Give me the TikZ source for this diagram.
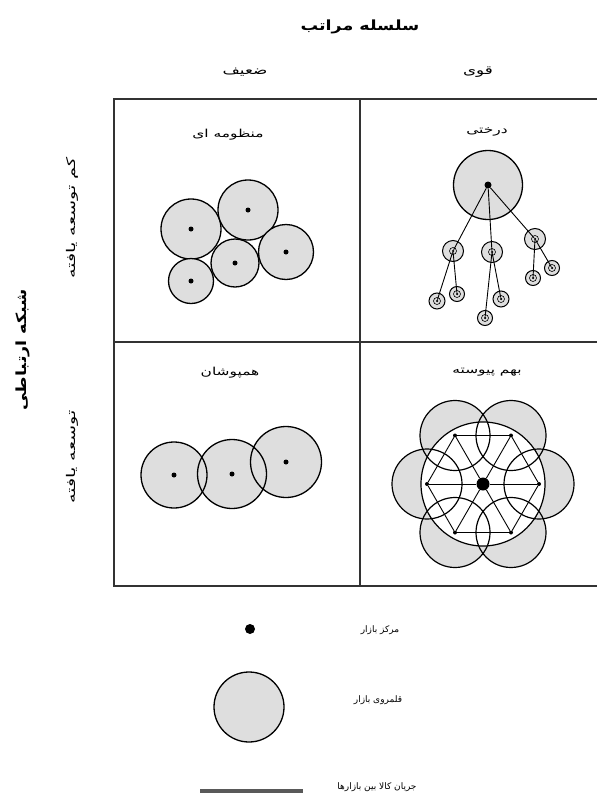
\documentclass[tikz,border=0pt]{standalone}
\usepackage{fontspec}
\newfontfamily\fa[Script=Arabic]{DejaVu Sans}
\newfontfamily\faw[Script=Arabic,FakeStretch=1.4]{DejaVu Sans}
\newfontfamily\faww[Script=Arabic,FakeStretch=1.6]{DejaVu Sans}
\newfontfamily\fab[Script=Arabic,FakeStretch=1.25]{DejaVu Sans}
\TeXXeTstate=1
\usetikzlibrary{calc,backgrounds}
\definecolor{fillc}{gray}{0.87}
\begin{document}
\begin{tikzpicture}[x=1pt,y=-1pt,
  mkt/.style={circle,draw=black,line width=1.3pt,fill=fillc,inner sep=0pt,minimum size=#1},
  ring/.style={circle,draw=black,line width=1.1pt,inner sep=0pt,minimum size=#1},
  mdot/.style={circle,fill=black,inner sep=0pt,minimum size=#1},
  link/.style={line width=0.9pt},
  grid/.style={line width=1.6pt,draw=black!80},
  lbl/.style={font=\faw\fontsize{11}{12}\selectfont},
  leg/.style={font=\fa\fontsize{9}{10}\selectfont},
  head/.style={font=\faw\fontsize{12}{13}\selectfont},
  side/.style={font=\faww\fontsize{12}{13}\selectfont},
  big/.style={font=\fab\bfseries\fontsize{14}{16}\selectfont}]
\useasboundingbox (0,0) rectangle (597,798);
% frame
\coordinate (g1) at (597,99);
\coordinate (g2) at (114,99);
\coordinate (g3) at (114,586);
\coordinate (g4) at (597,586);
\coordinate (g5) at (360,99);
\coordinate (g6) at (360,586);
\coordinate (g7) at (114,342);
\coordinate (g8) at (597,342);
\draw[grid] (g1) -- (g2) -- (g3) -- (g4);
\draw[grid] (g5) -- (g6);
\draw[grid] (g7) -- (g8);
% headings
\node[big] (title) at (360,27) {\beginR سلسله مراتب\endR};
\node[head] (weak) at (245,72) {\beginR ضعیف\endR};
\node[head] (strong) at (478,72) {\beginR قوی\endR};
\node[big,rotate=90] (net) at (23,350) {\beginR شبکه ارتباطی\endR};
\node[side,rotate=90] (less) at (72,218) {\beginR کم توسعه یافته\endR};
\node[side,rotate=90] (dev) at (72,457) {\beginR توسعه یافته\endR};
% cell labels
\node[lbl] (ltl) at (228,135) {\beginR منظومه ای\endR};
\node[lbl] (ltr) at (487,132) {\beginR درختی\endR};
\node[lbl] (lbl1) at (230,373) {\beginR همپوشان\endR};
\node[lbl] (lbr) at (487,372) {\beginR بهم پیوسته\endR};
% top-left: solar
\node[mkt=60pt] (s1) at (191,229) {};
\node[mkt=60pt] (s2) at (248,210) {};
\node[mkt=55pt] (s3) at (286,252) {};
\node[mkt=48pt] (s4) at (235,263) {};
\node[mkt=45pt] (s5) at (191,281) {};
\foreach \n in {s1,s2,s3,s4,s5} \node[mdot=5pt] (\n d) at (\n) {};
% top-right: tree
\node[mkt=69pt] (r) at (488,185) {};
\node[mdot=7pt] (rd) at (r) {};
\foreach \n/\x/\y/\s in {a/453/251/21,b/492/252/21,c/535/239/21,
  a1/437/301/16,a2/457/294/15,b1/485/318/15,b2/501/299/16,c1/533/278/15,c2/552/268/15} {
  \node[mkt=\s pt,line width=1pt] (\n) at (\x,\y) {};
  \node[ring=7pt,line width=0.6pt] (\n r) at (\x,\y) {};
  \node[mdot=2.5pt] (\n d) at (\x,\y) {};
}
\draw[link] (rd) -- (ad);
\draw[link] (rd) -- (bd);
\draw[link] (rd) -- (cd);
\draw[link] (ad) -- (a1d);
\draw[link] (ad) -- (a2d);
\draw[link] (bd) -- (b1d);
\draw[link] (bd) -- (b2d);
\draw[link] (cd) -- (c1d);
\draw[link] (cd) -- (c2d);
% bottom-left: overlapping
\node[ring=66pt,line width=1.3pt] (o1) at (174,475) {};
\node[ring=69pt,line width=1.3pt] (o2) at (232,474) {};
\node[ring=71pt,line width=1.3pt] (o3) at (286,462) {};
\begin{pgfonlayer}{background}
\fill[fillc] (o1.center) circle[radius=33];
\fill[fillc] (o2.center) circle[radius=34.5];
\fill[fillc] (o3.center) circle[radius=35.5];
\end{pgfonlayer}
\foreach \n in {o1,o2,o3} \node[mdot=5pt] (\n d) at (\n) {};
% bottom-right: interconnected
\coordinate (C) at (483,484);
\node[ring=124pt,line width=1.2pt] (cc) at (C) {};
\foreach \i in {1,...,6} {
  \node[ring=70pt,line width=1.2pt] (p\i) at ($(C)+(\i*60-60:56)$) {};
  \node[mdot=4pt] (v\i) at ($(C)+(\i*60-60:56)$) {};
}
\begin{pgfonlayer}{background}
\foreach \i in {1,...,6} \fill[fillc] (p\i.center) circle[radius=35];
\fill[white] (cc.center) circle[radius=62];
\end{pgfonlayer}
\node[mdot=13pt] (cd) at (C) {};
\draw[link] (v1) -- (v2) -- (v3) -- (v4) -- (v5) -- (v6) -- (v1);
\draw[link] (v1) -- (cd) -- (v4);
\draw[link] (v2) -- (cd) -- (v5);
\draw[link] (v3) -- (cd) -- (v6);
% legend
\node[mdot=10pt] (lg1) at (250,629) {};
\node[leg] (lt1) at (380,630) {\beginR مرکز بازار\endR};
\node[mkt=70pt] (lg2) at (249,707) {};
\node[leg] (lt2) at (378,700) {\beginR قلمروی بازار\endR};
\coordinate (lg3a) at (200,791);
\coordinate (lg3b) at (303,791);
\draw[line width=3.5pt,draw=black!65] (lg3a) -- (lg3b);
\node[leg] (lt3) at (377,787) {\beginR جریان کالا بین بازارها\endR};
\end{tikzpicture}
\end{document}
